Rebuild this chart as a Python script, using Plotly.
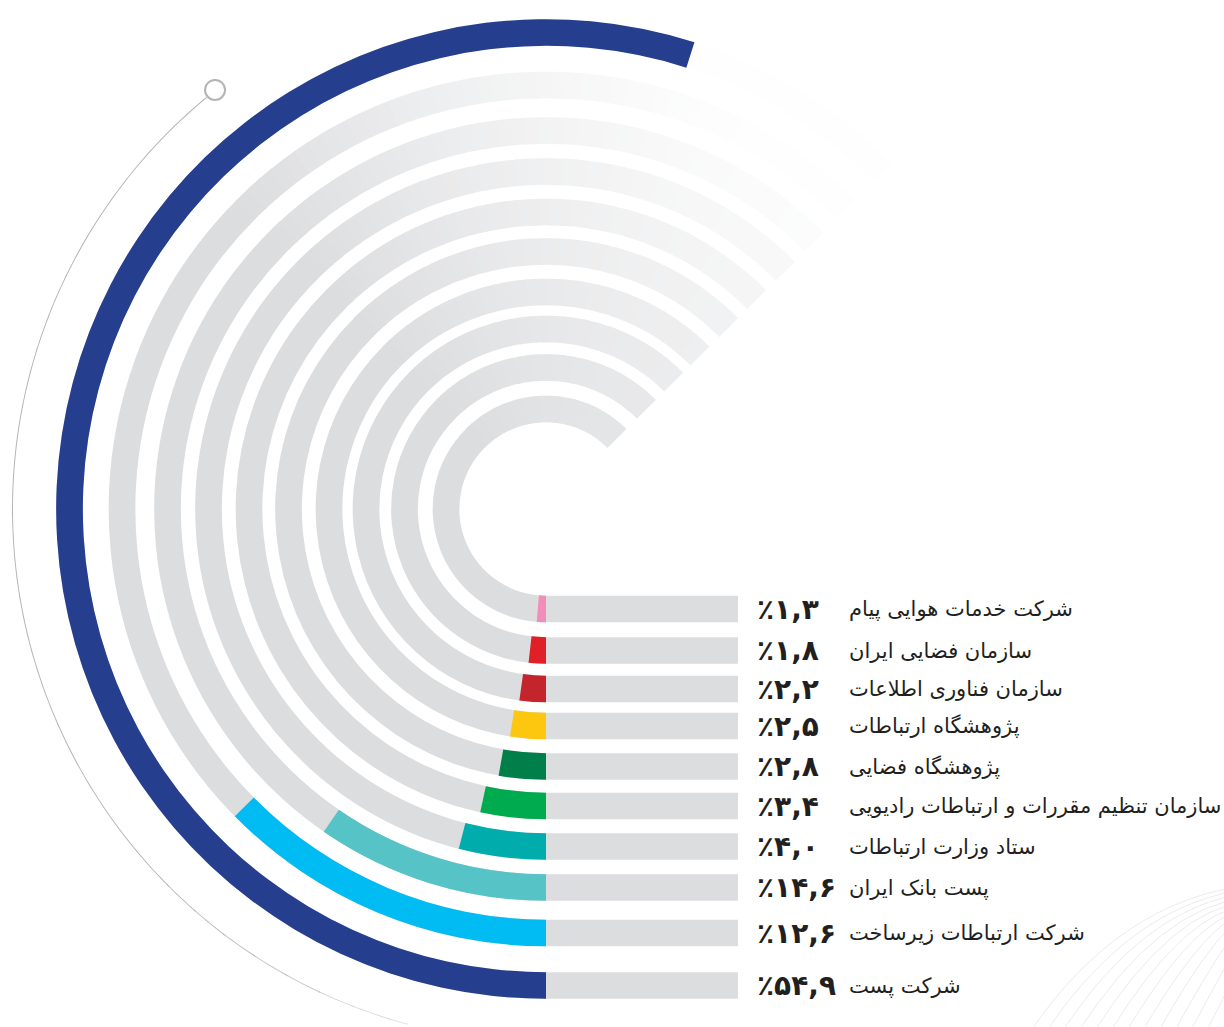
import numpy as np
import plotly.graph_objects as go

# ---------------- data ----------------
names = [
    "شرکت خدمات هوایی پیام",
    "سازمان فضایی ایران",
    "سازمان فناوری اطلاعات",
    "پژوهشگاه ارتباطات",
    "پژوهشگاه فضایی",
    "سازمان تنظیم مقررات و ارتباطات رادیویی",
    "ستاد وزارت ارتباطات",
    "پست بانک ایران",
    "شرکت ارتباطات زیرساخت",
    "شرکت پست",
]
share_pct = [1.3, 1.8, 2.2, 2.5, 2.8, 3.4, 4.0, 14.6, 12.6, 54.9]
# arc length as it is drawn in the reference (the 14.6 % arc is drawn at about 9.6 %)
arc_pct = [1.3, 1.8, 2.2, 2.5, 2.8, 3.4, 4.0, 9.6, 12.6, 54.9]
colors = ["#F28CB9", "#DF2027", "#C4242C", "#FEC70F", "#007F4A",
          "#00AA4E", "#00ADAC", "#56C3C6", "#00BCF2", "#253E8E"]

# ---------------- layout constants ----------------
W, H = 1224, 1027
CX, CY = 546, 509                      # centre of the rings (px)
RING_R = [100, 141.5, 180, 217, 257.5, 297, 337.5, 378.5, 424, 476.5]
THICK = 26.7
R_MAIN = 509
TRACK_END = 225                        # degrees clockwise from the bottom
SOLID_END = 135
N_SEG = 45
FADE_LEN = 420
BAR_END = 738
GREY = (220, 221, 223)
WHITE = (255, 255, 255)
R_DEC = 534
DEC_END = 141.7
DEC_GREY = (180, 180, 180)
PCT_X, NAME_X = 755, 847
TXT = "#231F20"


def mix(c0, c1, t):
    return "rgb(%d,%d,%d)" % tuple(round(a + (b - a) * t) for a, b in zip(c0, c1))


FA = str.maketrans("0123456789", "۰۱۲۳۴۵۶۷۸۹")


def fa_pct(v):
    return "٪" + f"{v:.1f}".replace(".", ",").translate(FA)


fig = go.Figure()

# horizontal grey tails (cartesian overlay in pixel units)
row_y = [CY + r for r in RING_R]
fig.add_trace(go.Bar(
    x=[BAR_END - CX] * len(RING_R), base=[CX] * len(RING_R), y=row_y,
    orientation="h", width=THICK, marker=dict(color=mix(GREY, GREY, 0), line=dict(width=0)),
    hoverinfo="skip", xaxis="x", yaxis="y"))

# grey ring tracks with fade towards the upper right
tr_r, tr_base, tr_theta, tr_w, tr_c = [], [], [], [], []
for rr in RING_R:
    tr_r.append(THICK); tr_base.append(rr - THICK / 2)
    tr_theta.append(SOLID_END / 2); tr_w.append(SOLID_END + 0.3); tr_c.append(mix(GREY, GREY, 0))
    edges = np.linspace(SOLID_END, TRACK_END, N_SEG + 1)
    for a0, a1 in zip(edges[:-1], edges[1:]):
        am = np.radians((a0 + a1) / 2)
        dx = -rr * np.sin(am)
        dy = -rr * np.cos(am)
        p = (dx + dy) / np.sqrt(2)
        t = float(np.clip(p / FADE_LEN, 0, 0.97))
        tr_r.append(THICK); tr_base.append(rr - THICK / 2)
        tr_theta.append((a0 + a1) / 2); tr_w.append((a1 - a0) + 0.35)
        tr_c.append(mix(GREY, WHITE, t))
fig.add_trace(go.Barpolar(
    r=tr_r, base=tr_base, theta=tr_theta, width=tr_w,
    marker=dict(color=tr_c, line=dict(width=0)), hoverinfo="skip", subplot="polar"))

# coloured value arcs
fig.add_trace(go.Barpolar(
    r=[THICK] * len(arc_pct), base=[r - THICK / 2 for r in RING_R],
    theta=[v * 3.6 / 2 for v in arc_pct], width=[v * 3.6 for v in arc_pct],
    marker=dict(color=colors, line=dict(width=0)), hoverinfo="skip", subplot="polar"))

# decorative thin outer arc (own polar subplot limited to a sector)
fade_edges = np.linspace(5, 45, 11)
for i, (a0, a1) in enumerate(zip(fade_edges[:-1], fade_edges[1:])):
    t = (i + 0.5) / (len(fade_edges) - 1)
    fig.add_trace(go.Scatterpolar(
        r=[R_DEC] * 8, theta=np.linspace(a0, a1 + 0.3, 8), mode="lines",
        line=dict(color=mix((245, 245, 245), DEC_GREY, t ** 0.8), width=2),
        hoverinfo="skip", subplot="polar2", cliponaxis=False))
fig.add_trace(go.Scatterpolar(
    r=[R_DEC] * 80, theta=np.linspace(45, DEC_END - 1.2, 80), mode="lines",
    line=dict(color=mix(DEC_GREY, DEC_GREY, 0), width=2),
    hoverinfo="skip", subplot="polar2", cliponaxis=False))
fig.add_trace(go.Scatterpolar(
    r=[R_DEC], theta=[DEC_END], mode="markers",
    marker=dict(size=20, color="white", line=dict(color=mix(DEC_GREY, DEC_GREY, 0), width=2)),
    hoverinfo="skip", subplot="polar2", cliponaxis=False))

# faint globe-like decoration in the lower-right corner
shapes = []
for k in range(14):
    x0 = 1030 + k * 16
    shapes.append(dict(type="path", xref="x", yref="y",
                       path=f"M {x0},{H + 5} Q {x0 + 90 - k * 3},{900 + k * 2} {1250},{885 + k * 4}",
                       line=dict(color="rgb(236,236,238)", width=1)))

# labels
ann = []
for v, nm, yy in zip(share_pct, names, row_y):
    ann.append(dict(x=PCT_X, y=yy, xref="x", yref="y", text="<b>" + fa_pct(v) + "</b>",
                    showarrow=False, xanchor="left", yanchor="middle",
                    font=dict(family="DejaVu Sans", size=28, color=TXT)))
    ann.append(dict(x=NAME_X, y=yy, xref="x", yref="y", text=nm,
                    showarrow=False, xanchor="left", yanchor="middle",
                    font=dict(family="DejaVu Sans", size=21, color=TXT)))

# sector box of the decorative subplot
s0, s1 = 124.0, 255.0
bx0, bx1 = -1.0, max(0.0, np.cos(np.radians(s0)), np.cos(np.radians(s1)))
by0 = min(0.0, np.sin(np.radians(s0)), np.sin(np.radians(s1)))
by1 = max(0.0, np.sin(np.radians(s0)), np.sin(np.radians(s1)))
d_left, d_right = CX + R_DEC * bx0, CX + R_DEC * bx1
d_top, d_bot = CY - R_DEC * by1, CY - R_DEC * by0

ang = dict(visible=False, rotation=-90, direction="clockwise")
fig.update_layout(
    width=W, height=H, margin=dict(l=0, r=0, t=0, b=0),
    paper_bgcolor="white", plot_bgcolor="rgba(0,0,0,0)",
    showlegend=False, hovermode=False, annotations=ann, shapes=shapes,
    xaxis=dict(range=[0, W], visible=False, fixedrange=True, domain=[0, 1]),
    yaxis=dict(range=[H, 0], visible=False, fixedrange=True, domain=[0, 1]),
    polar=dict(
        domain=dict(x=[(CX - R_MAIN) / W, (CX + R_MAIN) / W],
                    y=[(H - CY - R_MAIN) / H, (H - CY + R_MAIN) / H]),
        radialaxis=dict(range=[0, R_MAIN], visible=False),
        angularaxis=ang, bgcolor="rgba(0,0,0,0)", barmode="overlay"),
    polar2=dict(
        domain=dict(x=[d_left / W, d_right / W], y=[(H - d_bot) / H, (H - d_top) / H]),
        sector=[s0, s1],
        radialaxis=dict(range=[0, R_DEC], visible=False),
        angularaxis=ang, bgcolor="rgba(0,0,0,0)"),
)

fig.write_html("out.html", config={"displayModeBar": False},
               post_script="document.body.style.margin='0';")
